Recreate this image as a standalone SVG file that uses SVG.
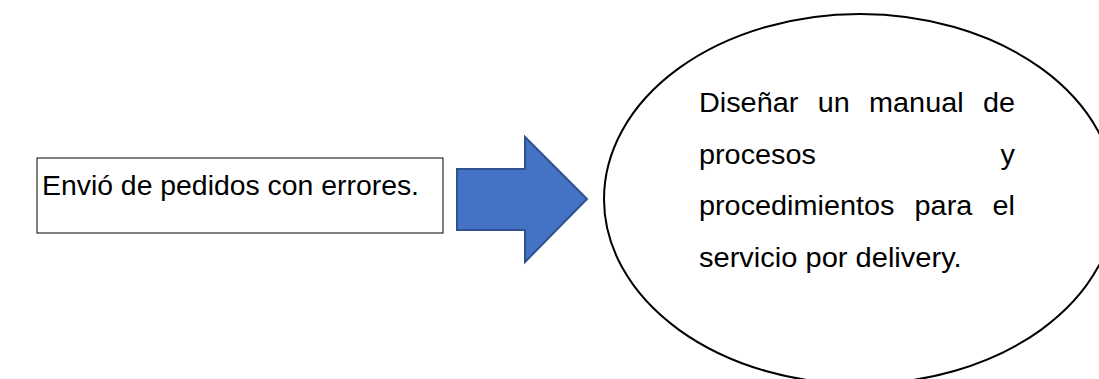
<svg xmlns="http://www.w3.org/2000/svg" width="1099" height="379" viewBox="0 0 1099 379">
<style>
.t{font-family:"Liberation Sans",Arial,sans-serif;font-size:27px;fill:#000}
</style>
<rect width="1099" height="379" fill="#fff"/>
<g id="problem">
<rect x="37" y="158" width="406" height="75" fill="#fff" stroke="#000" stroke-width="1"/>
<text class="t" x="42" y="195" textLength="377" lengthAdjust="spacingAndGlyphs">Envió de pedidos con errores.</text>
</g>
<g id="connectors">
<polygon points="457,169 525,169 525,137 587,199 525,262 525,230 457,230" fill="#4472C4" stroke="#2F528F" stroke-width="2"/>
</g>
<g id="solution">
<ellipse cx="860" cy="199" rx="256" ry="185" fill="#fff" stroke="#000" stroke-width="2"/>
<text class="t" x="699" y="112" textLength="99.3" lengthAdjust="spacingAndGlyphs">Diseñar</text>
<text class="t" x="817.7" y="112" textLength="32" lengthAdjust="spacingAndGlyphs">un</text>
<text class="t" x="869.1" y="112" textLength="94.5" lengthAdjust="spacingAndGlyphs">manual</text>
<text class="t" x="983" y="112" textLength="32" lengthAdjust="spacingAndGlyphs">de</text>
<text class="t" x="699" y="163.7" textLength="116.9" lengthAdjust="spacingAndGlyphs">procesos</text>
<text class="t" x="1000.6" y="163.7" textLength="14.4" lengthAdjust="spacingAndGlyphs">y</text>
<text class="t" x="699" y="215.3" textLength="195.4" lengthAdjust="spacingAndGlyphs">procedimientos</text>
<text class="t" x="914.6" y="215.3" textLength="57.7" lengthAdjust="spacingAndGlyphs">para</text>
<text class="t" x="992.6" y="215.3" textLength="22.4" lengthAdjust="spacingAndGlyphs">el</text>
<text class="t" x="699" y="267" textLength="262.6" lengthAdjust="spacingAndGlyphs">servicio por delivery.</text>
</g>
</svg>
